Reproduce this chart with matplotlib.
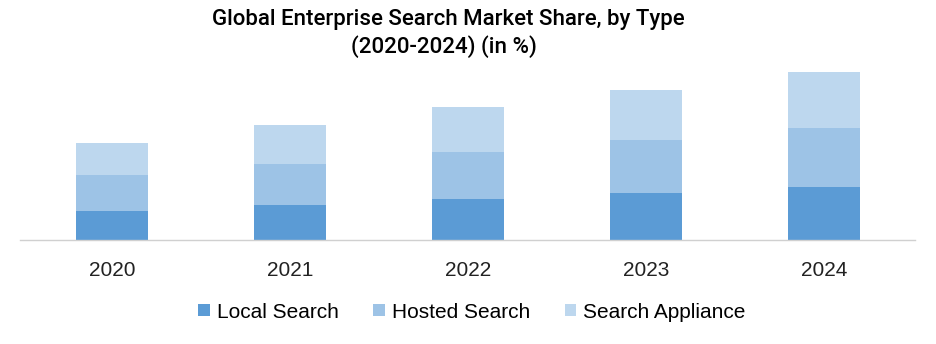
import matplotlib.pyplot as plt
import numpy as np

years = ["2020", "2021", "2022", "2023", "2024"]
local_search = [29, 35, 41, 47, 53]
hosted_search = [36, 41, 47, 53, 59]
search_appliance = [32, 39, 45, 50, 56]

series = [
    ("Local Search", local_search, "#5b9bd5"),
    ("Hosted Search", hosted_search, "#9dc3e6"),
    ("Search Appliance", search_appliance, "#bdd7ee"),
]

fig = plt.figure(figsize=(9.37, 3.44), dpi=100)
ax = fig.add_axes([20 / 937, 1 - 240 / 344, 895 / 937, 180 / 344])

x = np.arange(len(years))
bottom = np.zeros(len(years))
for name, vals, color in series:
    ax.bar(x, vals, width=0.404, bottom=bottom, color=color, label=name)
    bottom += np.array(vals)

ax.set_xlim(-0.517, 4.511)
ax.set_ylim(0, 180)
for side in ("left", "right", "top"):
    ax.spines[side].set_visible(False)
ax.spines["bottom"].set_color("#d0d0d0")
ax.spines["bottom"].set_linewidth(1)
ax.set_yticks([])
ax.set_xticks(x)
ax.set_xticklabels(years, fontsize=15, family="Liberation Sans", color="#222222")
ax.tick_params(axis="x", length=0, pad=15)

title_kw = dict(ha="center", va="center", fontsize=16, family="Roboto", fontweight="medium")
fig.text(448 / 937, 1 - 19 / 344, "Global Enterprise Search Market Share, by Type", **title_kw)
fig.text(444 / 937, 1 - 47 / 344, "(2020-2024) (in %)", **title_kw)

fig.legend(loc="center", bbox_to_anchor=(472 / 937, 1 - 312 / 344), ncol=3, frameon=False,
           prop={"family": "Liberation Sans", "size": 15},
           handlelength=0.55, handleheight=0.55, handletextpad=0.35, columnspacing=1.65)

fig.savefig("out.png", dpi=100)
